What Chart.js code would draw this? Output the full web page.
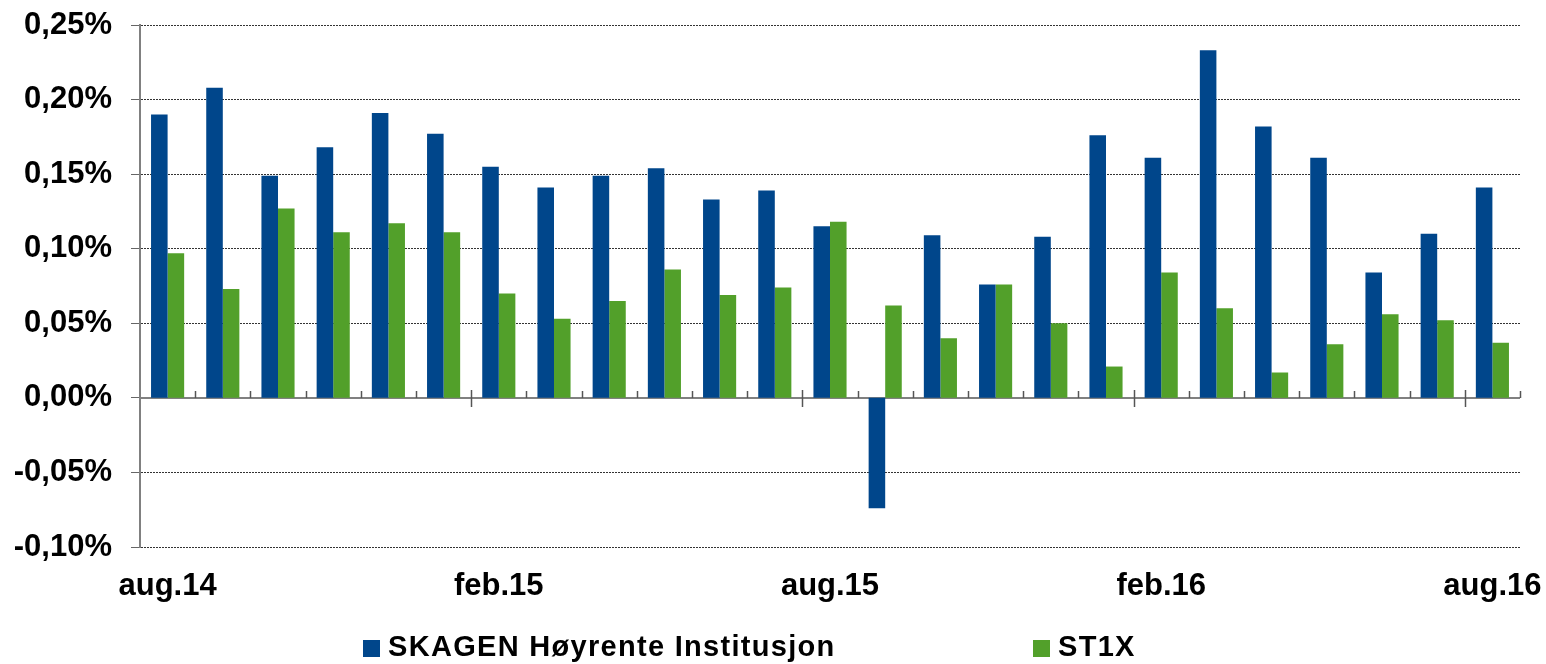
<!DOCTYPE html>
<html lang="no">
<head>
<meta charset="UTF-8">
<title>SKAGEN Høyrente Institusjon vs ST1X</title>
<script src="https://cdn.jsdelivr.net/npm/chart.js"></script>
<style>
  html, body { margin: 0; padding: 0; background: #fff; }
  #wrap { position: relative; width: 1546px; height: 664px; }
  .lg-box { position: absolute; width: 17px; height: 17px; top: 640px; }
  .lg-text { position: absolute; top: 632px; font: bold 29px "Liberation Sans", Arial, sans-serif;
             line-height: 29px; letter-spacing: 1.3px; color: #000; white-space: nowrap; }
</style>
</head>
<body>
<div id="wrap">
  <canvas id="chart" width="1546" height="664"></canvas>
  <div class="lg-box" style="left:363px;background:#00468B"></div>
  <div class="lg-text" style="left:388px">SKAGEN Høyrente Institusjon</div>
  <div class="lg-box" style="left:1033px;background:#52A02A"></div>
  <div class="lg-text" style="left:1058px">ST1X</div>
</div>
<script>
// months aug.14 .. aug.16
const months = ['aug.14','sep.14','okt.14','nov.14','des.14','jan.15','feb.15','mar.15','apr.15','mai.15',
  'jun.15','jul.15','aug.15','sep.15','okt.15','nov.15','des.15','jan.16','feb.16','mar.16',
  'apr.16','mai.16','jun.16','jul.16','aug.16'];
// monthly return, percent
const skagen = [0.190, 0.208, 0.149, 0.168, 0.191, 0.177, 0.155, 0.141, 0.149, 0.154,
  0.133, 0.139, 0.115, -0.074, 0.109, 0.076, 0.108, 0.176, 0.161, 0.233,
  0.182, 0.161, 0.084, 0.110, 0.141];
const st1x = [0.097, 0.073, 0.127, 0.111, 0.117, 0.111, 0.070, 0.053, 0.065, 0.086,
  0.069, 0.074, 0.118, 0.062, 0.040, 0.076, 0.050, 0.021, 0.084, 0.060,
  0.017, 0.036, 0.056, 0.052, 0.037];
const shownLabels = ['aug.14', 'feb.15', 'aug.15', 'feb.16', 'aug.16'];

const font = { family: '"Liberation Sans", Arial, sans-serif', size: 31, weight: 'bold' };

// zero line + the little month ticks sitting on it
const zeroAxis = {
  id: 'zeroAxis',
  beforeDatasetsDraw(chart) {
    const { ctx, scales: { x, y } } = chart;
    const y0 = Math.round(y.getPixelForValue(0));
    ctx.save();
    ctx.strokeStyle = '#808080';
    ctx.lineWidth = 2;
    ctx.beginPath();
    ctx.moveTo(x.left, y0);
    ctx.lineTo(x.right, y0);
    ctx.stroke();
    const n = months.length;
    const step = (x.right - x.left) / n;
    ctx.lineWidth = 1.5;
    ctx.strokeStyle = '#555';
    for (let i = 1; i <= n; i++) {
      const px = Math.round(x.left + i * step) + 0.5;
      ctx.beginPath();
      if (i % 6 === 0 && i < n) {
        ctx.moveTo(px, y0 - 8);
        ctx.lineTo(px, y0 + 9);
      } else {
        ctx.moveTo(px, y0 - 7);
        ctx.lineTo(px, y0);
      }
      ctx.stroke();
    }
    ctx.restore();
  }
};

new Chart(document.getElementById('chart'), {
  type: 'bar',
  data: {
    labels: months,
    datasets: [
      { label: 'SKAGEN Høyrente Institusjon', data: skagen, backgroundColor: '#00468B' },
      { label: 'ST1X', data: st1x, backgroundColor: '#52A02A' }
    ]
  },
  options: {
    responsive: false,
    animation: false,
    layout: { padding: { top: 25, right: 26, left: 0, bottom: 0 } },
    datasets: { bar: { categoryPercentage: 0.6, barPercentage: 1.0 } },
    plugins: { legend: { display: false }, tooltip: { enabled: false } },
    scales: {
      x: {
        grid: { display: false, drawTicks: false },
        border: { display: false },
        ticks: {
          autoSkip: false,
          maxRotation: 0,
          padding: 21,
          color: '#000',
          font: font,
          callback: function(v, i) {
            const l = months[i];
            return shownLabels.includes(l) ? l : '';
          }
        },
        afterFit(scale) {
          scale.height = 117;
          scale.paddingLeft = 0;
          scale.paddingRight = 0;
        }
      },
      y: {
        min: -0.10,
        max: 0.25,
        ticks: {
          stepSize: 0.05,
          padding: 19,
          color: '#000',
          font: font,
          callback: v => (Math.round(v * 100) / 100 + 0).toFixed(2).replace('.', ',') + '%'
        },
        grid: {
          color: ctx => (ctx.tick && Math.abs(ctx.tick.value) < 1e-9) ? 'rgba(0,0,0,0)' : '#333',
          tickColor: '#666',
          tickLength: 9,
          lineWidth: 1
        },
        border: { display: true, color: '#808080', width: 2, dash: [2, 1] },
        afterFit(scale) {
          scale.width = 140;
          scale.paddingTop = 0;
          scale.paddingBottom = 0;
        }
      }
    }
  },
  plugins: [zeroAxis]
});
</script>
</body>
</html>
